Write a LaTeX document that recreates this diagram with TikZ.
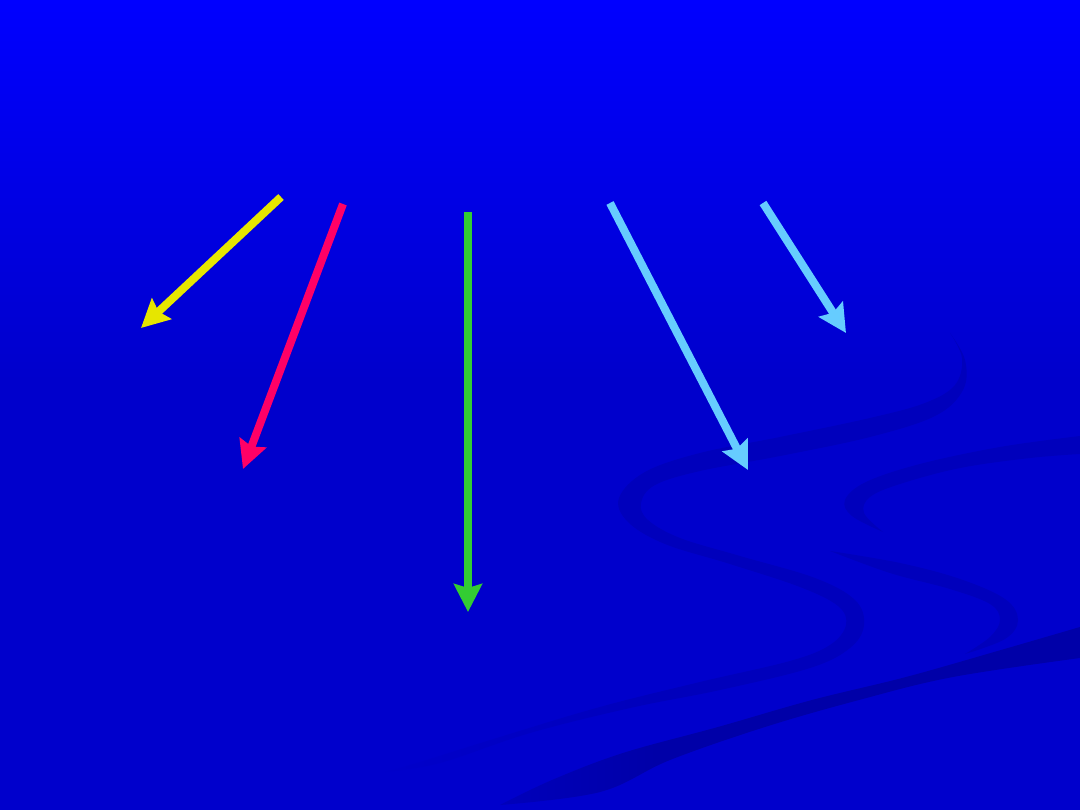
\documentclass[tikz,border=0pt]{standalone}
\usetikzlibrary{arrows.meta,fadings}
\definecolor{bgtop}{HTML}{0000FF}
\definecolor{bgbot}{HTML}{0000CC}
\definecolor{swirl}{HTML}{0000BC}
\definecolor{swirldark}{HTML}{0000A8}
\definecolor{ayellow}{HTML}{E6E600}
\definecolor{ared}{HTML}{FF0066}
\definecolor{agreen}{HTML}{33CC33}
\definecolor{ablue}{HTML}{66CCFF}
\tikzfading[name=hideleft, left color=transparent!0, right color=transparent!100]
\tikzset{
  arr/.style={line width=8pt, line cap=butt, -{Stealth[length=28pt,width=28pt,inset=4pt]}},
  band/.style={fill=swirl, draw=none},
  banddark/.style={fill=swirldark, draw=none}
}
\begin{document}
\begin{tikzpicture}[x=1pt,y=-1pt]
\useasboundingbox (0,0) rectangle (1080,810);
% background
\fill[bgbot] (0,0) rectangle (1080,810);
\shade[top color=bgtop, bottom color=bgbot] (0,0) rectangle (1080,380);
% swirls
\fill[band] plot[smooth, tension=0.6] coordinates {(950,333) (962,358) (955,385) (925,403) (870,418) (780,437) (700,453) (645,472) (619,498) (628,522) (665,544) (730,564) (800,587) (838,606) (846,625) (830,645) (790,661) (700,682) (600,707) (500,737) (420,762) (385,772)}
 -- plot[smooth, tension=0.6] coordinates {(385,772) (440,763) (530,733) (630,708) (720,690) (810,668) (850,648) (864,625) (855,600) (815,578) (740,556) (680,538) (648,520) (641,503) (655,485) (700,471) (780,456) (870,437) (935,416) (963,390) (965,360) (950,333)} -- cycle;
\fill[band] plot[smooth, tension=0.6] coordinates {(1080,436) (1000,447) (920,464) (866,482) (845,500) (852,516) (883,532)}
 -- plot[smooth, tension=0.6] coordinates {(883,532) (864,513) (870,497) (900,484) (960,468) (1030,458) (1080,454)} -- cycle;
\fill[band] plot[smooth, tension=0.6] coordinates {(830,551) (900,563) (960,579) (1005,599) (1018,620) (1005,639) (965,654)}
 -- plot[smooth, tension=0.6] coordinates {(965,654) (990,637) (1000,620) (990,604) (950,589) (890,573) (830,551)} -- cycle;
\fill[banddark] plot[smooth, tension=0.6] coordinates {(1080,627) (1001,650) (906,677) (812,700) (718,727) (623,753) (552,780) (500,805)}
 -- plot[smooth, tension=0.6] coordinates {(500,805) (600,792) (670,760) (765,727) (859,700) (953,677) (1080,658)} -- cycle;
% fade the swirl ends towards the lower left
\fill[bgbot, path fading=hideleft] (370,680) rectangle (660,810);
% arrows
\coordinate (ys) at (281,197); \coordinate (ye) at (141,328);
\coordinate (rs) at (343,204); \coordinate (re) at (243,469);
\coordinate (gs) at (468,212); \coordinate (ge) at (468,612);
\coordinate (b1s) at (610,203); \coordinate (b1e) at (748,470);
\coordinate (b2s) at (763,203); \coordinate (b2e) at (846,333);
\draw[arr, draw=ayellow, fill=ayellow] (ys) -- (ye);
\draw[arr, draw=ared, fill=ared] (rs) -- (re);
\draw[arr, draw=agreen, fill=agreen] (gs) -- (ge);
\draw[arr, draw=ablue, fill=ablue] (b1s) -- (b1e);
\draw[arr, draw=ablue, fill=ablue] (b2s) -- (b2e);
\end{tikzpicture}
\end{document}
